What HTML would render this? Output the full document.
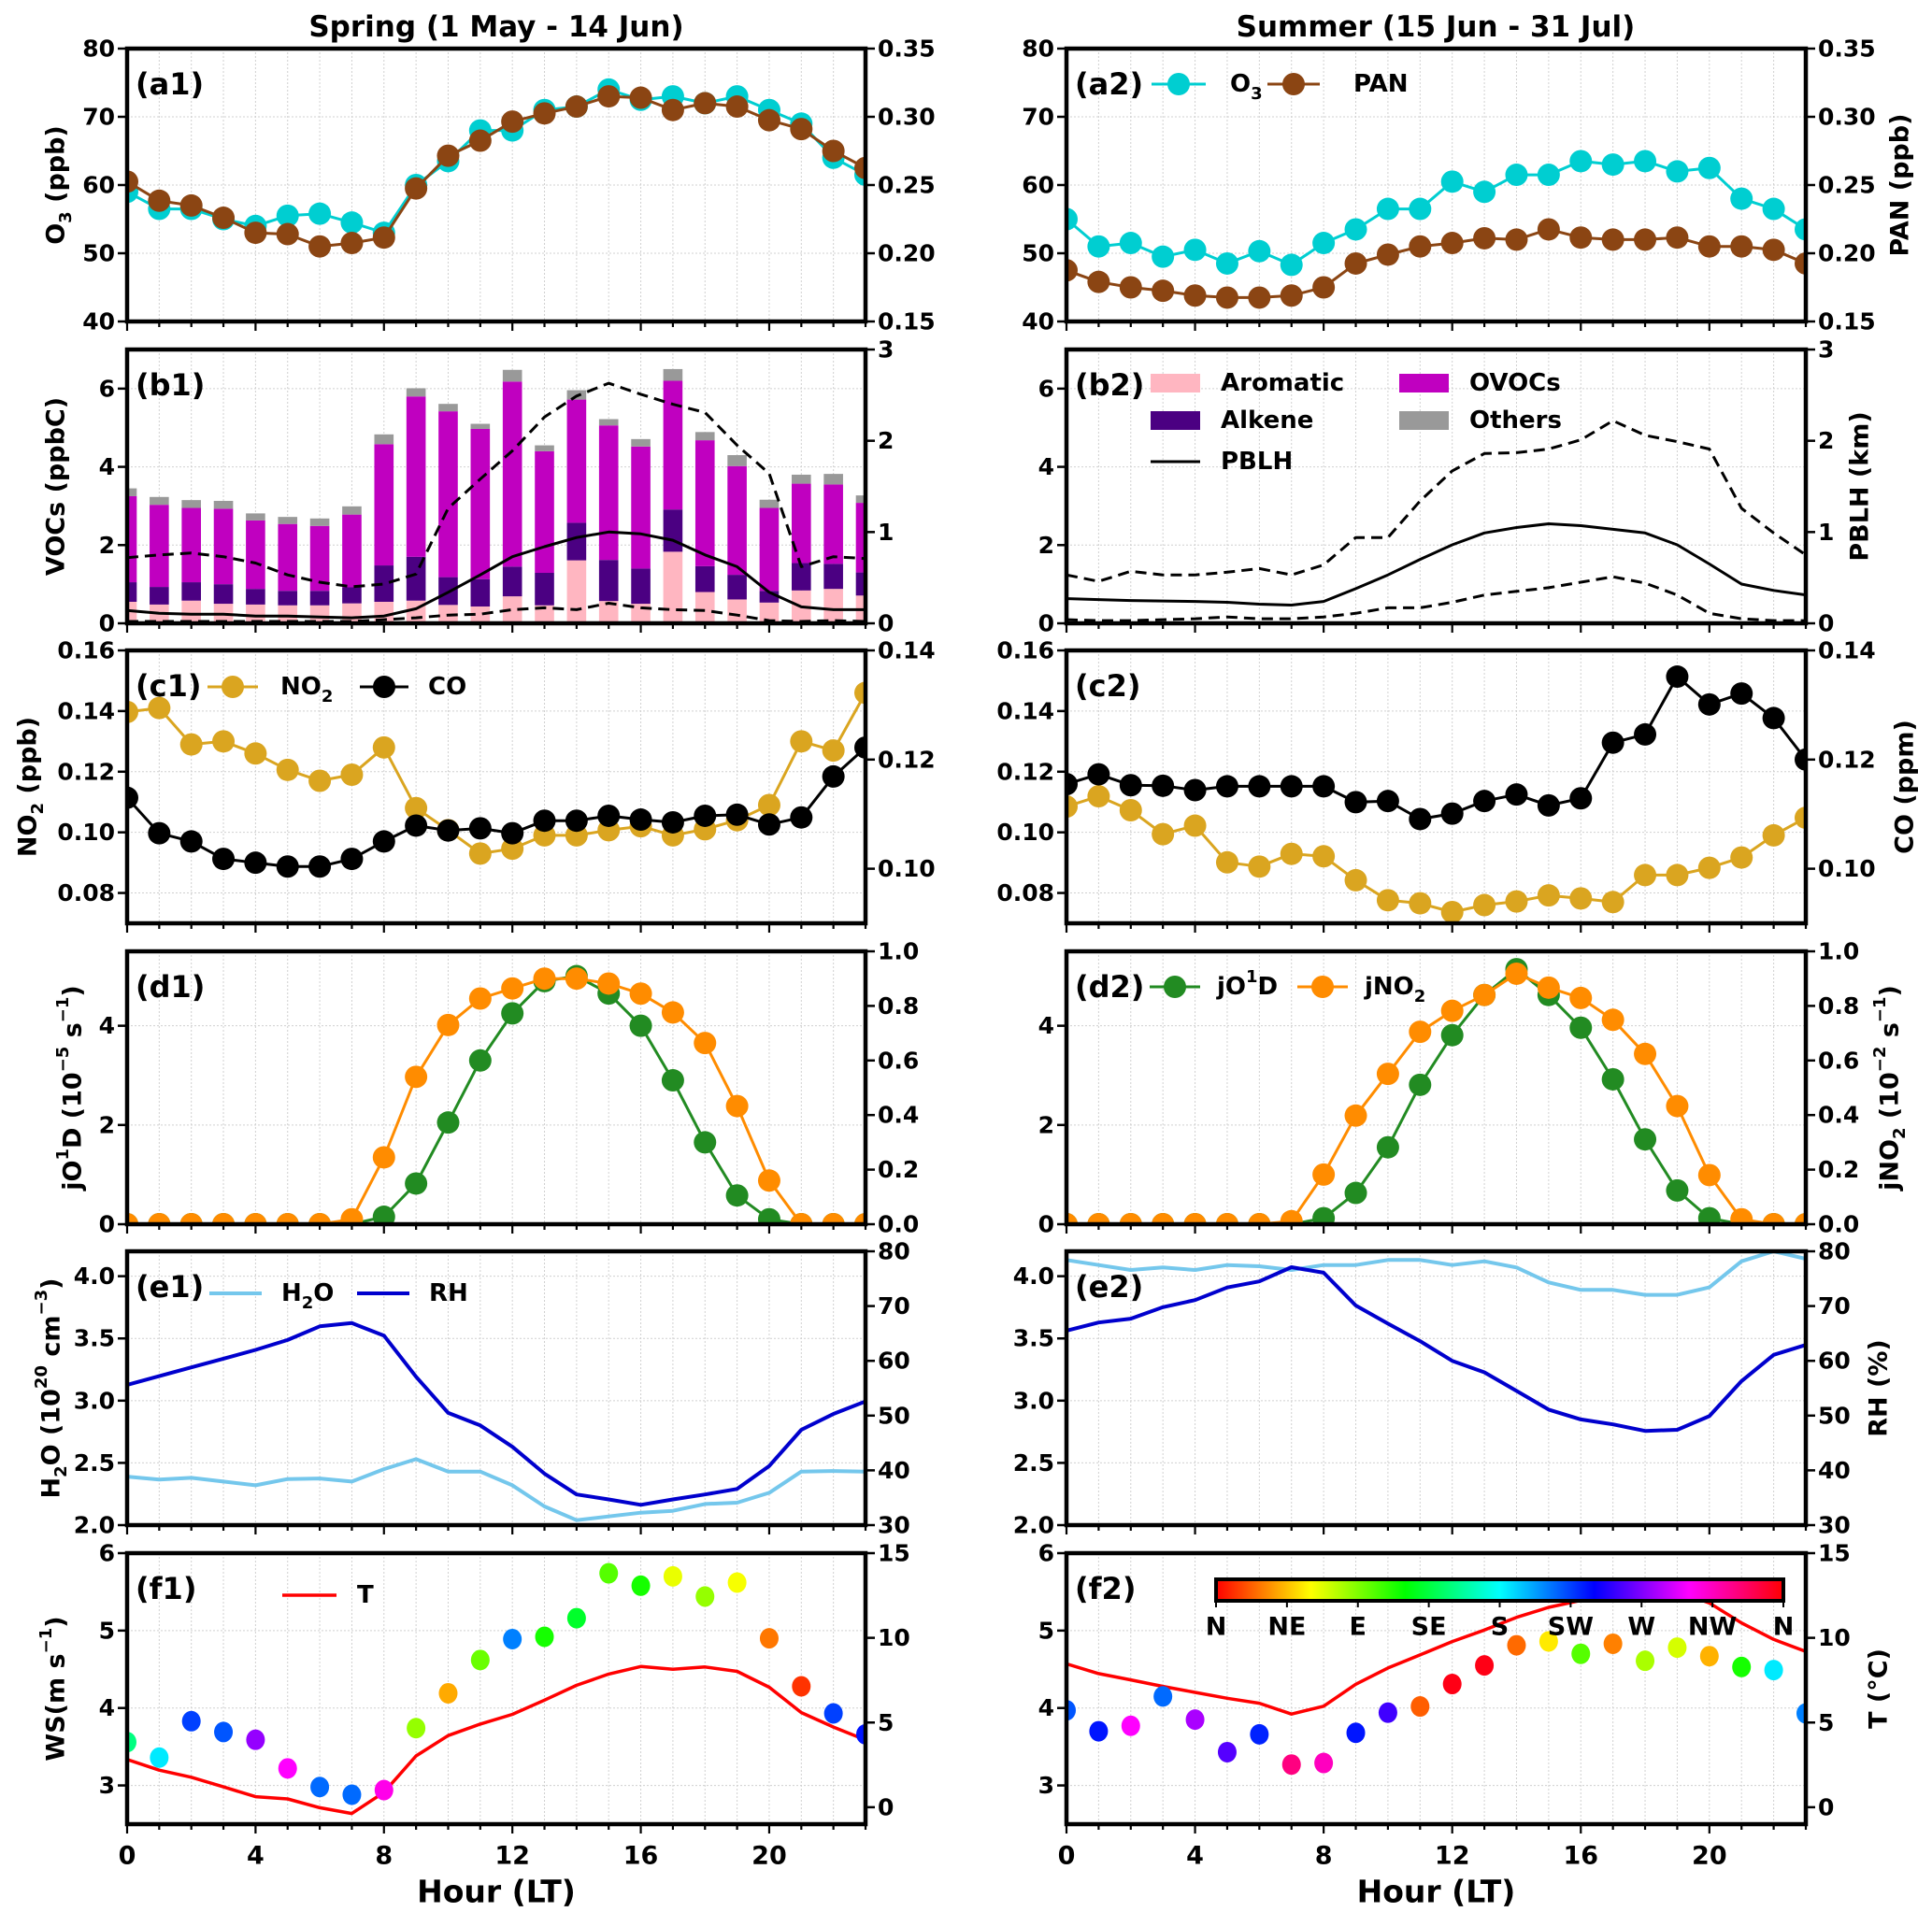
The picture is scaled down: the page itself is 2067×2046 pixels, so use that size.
<!DOCTYPE html>
<html><head><meta charset="utf-8">
<style>
html,body{margin:0;padding:0;background:#fff;}
svg{display:block;}
text{font-family:"DejaVu Sans","Liberation Sans",sans-serif;font-weight:bold;fill:#000;}
</style></head>
<body>
<svg id="chart" xmlns="http://www.w3.org/2000/svg" width="2067" height="2046" viewBox="0 0 2067 2046">
<defs id="defs">
<linearGradient id="hsvgrad" x1="0" x2="1" y1="0" y2="0">
<stop offset="0" stop-color="#ff0000"/><stop offset="0.1667" stop-color="#ffff00"/><stop offset="0.3333" stop-color="#00ff00"/><stop offset="0.5" stop-color="#00ffff"/><stop offset="0.6667" stop-color="#0000ff"/><stop offset="0.8333" stop-color="#ff00ff"/><stop offset="1" stop-color="#ff0000"/>
</linearGradient>
</defs>
</svg>
<script>
// ---------- data ----------
const hours = [0,1,2,3,4,5,6,7,8,9,10,11,12,13,14,15,16,17,18,19,20,21,22,23];
const xTicks = [0,4,8,12,16,20];
// a
const o3Spring = [59,56.5,56.5,55,54,55.5,55.8,54.5,53,60,63.5,68,68,71,71.5,74,72.5,73,72,73,71,69,64,61.5];
const panSpring = [0.2525,0.2385,0.235,0.226,0.215,0.214,0.205,0.2075,0.2115,0.2475,0.2715,0.2825,0.2965,0.3025,0.3075,0.315,0.314,0.305,0.31,0.3075,0.2975,0.291,0.275,0.2625];
const o3Summer = [55,51,51.5,49.5,50.5,48.5,50.3,48.3,51.5,53.5,56.5,56.5,60.5,59,61.5,61.5,63.5,63,63.5,62,62.5,58,56.5,53.5];
const panSummer = [0.1875,0.179,0.175,0.1725,0.169,0.1675,0.1675,0.169,0.175,0.1925,0.199,0.205,0.2075,0.211,0.21,0.2175,0.2115,0.21,0.21,0.2115,0.205,0.205,0.2025,0.1925];
// b (spring VOC components, ppbC)
const aromatic = [0.55,0.48,0.58,0.5,0.48,0.46,0.46,0.51,0.55,0.58,0.47,0.43,0.69,0.46,1.61,0.57,0.5,1.83,0.8,0.61,0.53,0.84,0.88,0.71];
const alkene = [0.5,0.45,0.47,0.5,0.4,0.37,0.37,0.41,0.93,1.12,0.71,0.7,0.76,0.83,0.96,1.05,0.9,1.08,0.66,0.63,0.3,0.7,0.64,0.59];
const ovocs = [2.2,2.1,1.9,1.93,1.75,1.71,1.66,1.86,3.1,4.1,4.24,3.84,4.73,3.11,3.15,3.44,3.12,3.29,3.22,2.78,2.12,2.03,2.03,1.78];
const others = [0.2,0.2,0.2,0.2,0.18,0.18,0.19,0.21,0.25,0.21,0.19,0.13,0.3,0.15,0.24,0.16,0.19,0.3,0.21,0.28,0.21,0.23,0.27,0.19];
const pblhSpring = [0.14,0.11,0.1,0.1,0.08,0.08,0.07,0.06,0.08,0.16,0.34,0.53,0.73,0.84,0.94,1.0,0.98,0.91,0.75,0.62,0.34,0.18,0.15,0.15];
const pblhSpringHi = [0.72,0.75,0.77,0.73,0.66,0.53,0.45,0.4,0.43,0.54,1.26,1.58,1.89,2.26,2.49,2.63,2.51,2.4,2.31,1.95,1.64,0.62,0.73,0.71];
const pblhSpringLo = [0.02,0.02,0.02,0.02,0.02,0.02,0.02,0.02,0.04,0.06,0.09,0.1,0.15,0.17,0.15,0.22,0.17,0.15,0.14,0.09,0.03,0.02,0.03,0.02];
const pblhSummer = [0.27,0.26,0.25,0.245,0.24,0.23,0.21,0.2,0.24,0.38,0.53,0.7,0.86,0.99,1.05,1.09,1.07,1.03,0.99,0.86,0.65,0.43,0.36,0.31];
const pblhSummerHi = [0.53,0.46,0.57,0.53,0.53,0.56,0.6,0.53,0.64,0.94,0.94,1.34,1.67,1.86,1.87,1.91,2.01,2.22,2.06,1.99,1.91,1.26,0.99,0.75];
const pblhSummerLo = [0.04,0.03,0.03,0.04,0.05,0.07,0.05,0.05,0.07,0.11,0.17,0.17,0.23,0.31,0.35,0.39,0.45,0.51,0.44,0.31,0.11,0.05,0.03,0.03];
// c
const no2Spring = [0.1397,0.141,0.129,0.130,0.126,0.1206,0.117,0.119,0.128,0.108,0.1007,0.093,0.0946,0.099,0.099,0.1007,0.102,0.099,0.101,0.104,0.109,0.130,0.127,0.146];
const coSpring = [0.113,0.1065,0.105,0.1018,0.1011,0.1004,0.1004,0.1018,0.105,0.1079,0.107,0.1074,0.1065,0.1088,0.1088,0.1097,0.109,0.1085,0.1097,0.1099,0.1081,0.1094,0.1169,0.1222];
const no2Summer = [0.1085,0.1119,0.1073,0.0994,0.1022,0.0901,0.0887,0.0929,0.0921,0.0842,0.0776,0.0766,0.0737,0.076,0.0772,0.0792,0.0782,0.077,0.0859,0.0859,0.0883,0.0917,0.099,0.1048];
const coSummer = [0.1155,0.1173,0.1153,0.1152,0.1144,0.1151,0.1151,0.1151,0.1151,0.1122,0.1124,0.1091,0.1101,0.1124,0.1136,0.1116,0.1129,0.1231,0.1246,0.1352,0.1301,0.1321,0.1276,0.12];
// d
const jo1dSpring = [0,0,0,0,0,0,0,0,0.15,0.82,2.05,3.3,4.25,4.9,5.0,4.65,4.0,2.9,1.65,0.58,0.1,0,0,0];
const jno2Spring = [0,0,0,0,0,0,0,0.018,0.245,0.54,0.73,0.827,0.864,0.9,0.9,0.882,0.845,0.776,0.664,0.433,0.16,0,0,0];
const jo1dSummer = [0,0,0,0,0,0,0,0,0.12,0.63,1.55,2.81,3.81,4.62,5.14,4.62,3.96,2.92,1.71,0.68,0.12,0,0,0];
const jno2Summer = [0,0,0,0,0,0,0,0.011,0.182,0.398,0.551,0.705,0.782,0.84,0.918,0.867,0.829,0.749,0.624,0.433,0.18,0.018,0,0];
// e
const h2oSpring = [2.39,2.366,2.38,2.35,2.32,2.37,2.375,2.35,2.45,2.53,2.43,2.43,2.32,2.15,2.04,2.07,2.1,2.115,2.17,2.18,2.26,2.43,2.435,2.43];
const rhSpring = [55.6,57.2,58.8,60.4,62.0,63.8,66.3,66.9,64.6,57.1,50.5,48.2,44.3,39.4,35.6,34.7,33.7,34.7,35.6,36.6,40.8,47.4,50.3,52.6];
const h2oSummer = [4.13,4.09,4.05,4.07,4.05,4.09,4.08,4.05,4.09,4.09,4.13,4.13,4.09,4.12,4.07,3.95,3.89,3.89,3.85,3.85,3.91,4.12,4.2,4.14];
const rhSummer = [65.5,67.0,67.7,69.8,71.1,73.4,74.5,77.1,76.1,70.1,66.8,63.6,60.0,57.9,54.5,51.1,49.3,48.4,47.2,47.4,49.9,56.3,61.1,62.9];
// f
const wsSpring = [3.56,3.36,3.83,3.69,3.59,3.22,2.98,2.88,2.94,3.74,4.19,4.62,4.89,4.92,5.16,5.74,5.58,5.7,5.44,5.62,4.9,4.28,3.93,3.66];
const wdSpring = [150,185,225,220,275,300,215,215,305,85,40,95,210,115,130,100,115,65,85,62,28,12,225,235];
const tSpring = [2.82,2.19,1.77,1.2,0.62,0.49,-0.03,-0.37,0.88,3.03,4.23,4.91,5.48,6.32,7.2,7.86,8.31,8.15,8.28,8.02,7.08,5.59,4.73,3.97];
const wsSummer = [3.97,3.70,3.77,4.15,3.85,3.43,3.66,3.27,3.29,3.68,3.94,4.02,4.31,4.55,4.81,4.86,4.70,4.83,4.61,4.78,4.67,4.53,4.49,3.93];
const wdSummer = [220,235,300,215,280,260,232,330,315,235,255,22,355,355,25,55,100,30,80,70,42,115,185,210];
const tSummer = [8.46,7.89,7.52,7.13,6.78,6.43,6.14,5.5,5.96,7.26,8.22,8.99,9.78,10.46,11.21,11.8,12.21,12.59,12.81,12.76,12.06,10.88,9.91,9.19];
const dirLabels = ['N','NE','E','SE','S','SW','W','NW','N'];

// ---------- layout ----------
const NS = 'http://www.w3.org/2000/svg';
const svg = document.getElementById('chart');
const defs = document.getElementById('defs');
const COLS = [[136,926],[1141,1932]];
const ROWS = [[52,344],[374,667],[696,988],[1018,1310],[1339,1632],[1662,1952]];

function mk(tag, attrs, parent) {
  const e = document.createElementNS(NS, tag);
  for (const k in attrs) e.setAttribute(k, attrs[k]);
  (parent || svg).appendChild(e);
  return e;
}
function txt(parent, x, y, html, size, anchor, rot) {
  const t = mk('text', {x: x, y: y, 'font-size': size, 'text-anchor': anchor || 'start', 'dominant-baseline': 'central'}, parent);
  if (rot) t.setAttribute('transform', 'rotate(-90 ' + x + ' ' + y + ')');
  t.innerHTML = html;
  return t;
}

function makePanel(id, col, row, yl, yr, ylTicks, yrTicks, lfmt, rfmt) {
  const x0 = COLS[col][0], x1 = COLS[col][1], y0 = ROWS[row][0], y1 = ROWS[row][1];
  const g = mk('g', {});
  
  
  const sx = h => x0 + h / 23 * (x1 - x0);
  const syL = v => y1 - (v - yl[0]) / (yl[1] - yl[0]) * (y1 - y0);
  const syR = v => y1 - (v - yr[0]) / (yr[1] - yr[0]) * (y1 - y0);
  const grid = mk('g', {stroke: '#d0d0d0', 'stroke-width': 1, 'stroke-dasharray': '2,2'}, g);
  
  
  hours.forEach(h => { mk('line', {x1: sx(h), x2: sx(h), y1: y0, y2: y1}, grid); });
  ylTicks.forEach(v => { mk('line', {x1: x0, x2: x1, y1: syL(v), y2: syL(v)}, grid); });
  const cp = mk('clipPath', {id: 'clip-' + id}, defs);
  mk('rect', {x: x0, y: y0, width: x1 - x0, height: y1 - y0}, cp);
  const plot = mk('g', {'clip-path': 'url(#clip-' + id + ')'}, g);
  
  
  const p = {g, plot, sx, syL, syR, x0, x1, y0, y1};
  p.finish = function (showX) {
    const ax = mk('g', {stroke: '#000'}, g);
    
    
    const sp = mk('rect', {x: x0, y: y0, width: x1 - x0, height: y1 - y0, fill: 'none', 'stroke-width': 4.5}, ax);
    
    
    hours.forEach(h => {
      const major = xTicks.indexOf(h) >= 0;
      mk('line', {x1: sx(h), x2: sx(h), y1: y1, y2: y1 + (major ? 10 : 6), 'stroke-width': 2.2}, ax);
    });
    const lt = mk('g', {}, g);
    
    
    ylTicks.forEach(v => {
      mk('line', {x1: x0 - 10, x2: x0, y1: syL(v), y2: syL(v), 'stroke-width': 2.5}, ax);
      txt(lt, x0 - 13, syL(v), lfmt(v), 25, 'end');
    });
    const rt = mk('g', {}, g);
    
    
    yrTicks.forEach(v => {
      mk('line', {x1: x1, x2: x1 + 10, y1: syR(v), y2: syR(v), 'stroke-width': 2.5}, ax);
      txt(rt, x1 + 13, syR(v), rfmt(v), 25, 'start');
    });
    if (showX) {
      const xt = mk('g', {}, g);
      
      
      xTicks.forEach(h => { txt(xt, sx(h), y1 + 34, String(h), 27, 'middle'); });
      const xl = txt(g, (x0 + x1) / 2, y1 + 72, 'Hour (LT)', 33, 'middle');
      
      
    }
  };
  return p;
}
function pathD(p, vals, yf) {
  return hours.map((h, i) => (i ? 'L' : 'M') + p.sx(h).toFixed(1) + ' ' + yf(vals[i]).toFixed(1)).join(' ');
}
function lineSeries(p, vals, yf, color, w, dash, name) {
  const a = {d: pathD(p, vals, yf), fill: 'none', stroke: color, 'stroke-width': w, 'stroke-linejoin': 'round'};
  if (dash) a['stroke-dasharray'] = dash;
  const e = mk('path', a, p.plot);
  
  
  return e;
}
function markerSeries(p, vals, yf, color, r, name) {
  const g = mk('g', {fill: color}, p.plot);
  
  
  hours.forEach((h, i) => {
    const c = mk('circle', {cx: p.sx(h), cy: yf(vals[i]), r: r}, g);
    
    
  });
}
function tag(p, label) {
  const t = txt(p.g, p.x0 + 9, p.y0 + 38, label, 32, 'start');
  
  
}
function yTitle(x, row, html, name) {
  const t = txt(svg, x, (ROWS[row][0] + ROWS[row][1]) / 2, html, 27, 'middle', true);
  
  
}
const f0 = v => v.toFixed(0), f1 = v => v.toFixed(1), f2 = v => v.toFixed(2);
const SUB = s => '<tspan baseline-shift="sub" font-size="18">' + s + '</tspan>';
const SUP = s => '<tspan baseline-shift="super" font-size="18">' + s + '</tspan>';

// titles
const t1 = txt(svg, 531, 29, 'Spring (1 May - 14 Jun)', 31, 'middle');


const t2 = txt(svg, 1536, 29, 'Summer (15 Jun - 31 Jul)', 31, 'middle');



// ---------- row a ----------
[[0, o3Spring, panSpring, '(a1)'], [1, o3Summer, panSummer, '(a2)']].forEach(([col, o3, pan, lab]) => {
  const p = makePanel('a' + (col + 1), col, 0, [40, 80], [0.15, 0.35], [40,50,60,70,80], [0.15,0.2,0.25,0.3,0.35], f0, f2);
  lineSeries(p, o3, p.syL, '#00ced1', 3, null, 'o3-line');
  markerSeries(p, o3, p.syL, '#00ced1', 12, 'o3-markers');
  lineSeries(p, pan, p.syR, '#8b4513', 3, null, 'pan-line');
  markerSeries(p, pan, p.syR, '#8b4513', 12, 'pan-markers');
  p.finish(false); tag(p, lab);
});
yTitle(60, 0, 'O' + SUB('3') + ' (ppb)', 'o3-y-axis-title');
yTitle(2033, 0, 'PAN (ppb)', 'pan-y-axis-title');
{
  const lg = mk('g', {});
  
  
  const l1 = mk('line', {x1: 1232, x2: 1290, y1: 90, y2: 90, stroke: '#00ced1', 'stroke-width': 3}, lg);
  
  
  mk('circle', {cx: 1261, cy: 90, r: 12, fill: '#00ced1'}, lg);
  txt(lg, 1316, 90, 'O' + SUB('3'), 26);
  const l2 = mk('line', {x1: 1356, x2: 1412, y1: 90, y2: 90, stroke: '#8b4513', 'stroke-width': 3}, lg);
  
  
  mk('circle', {cx: 1384, cy: 90, r: 12, fill: '#8b4513'}, lg);
  txt(lg, 1448, 90, 'PAN', 26);
}

// ---------- row b ----------
{
  const p = makePanel('b1', 0, 1, [0, 7], [0, 3], [0,2,4,6], [0,1,2,3], f0, f0);
  const bw = 0.6 * (p.x1 - p.x0) / 23;
  const comps = [[aromatic, '#ffb6c1', 'aromatic'], [alkene, '#4b0082', 'alkene'], [ovocs, '#c000c0', 'ovocs'], [others, '#999999', 'others']];
  hours.forEach((h, i) => {
    let base = 0;
    comps.forEach(([arr, color, nm]) => {
      const top = base + arr[i];
      const r = mk('rect', {x: p.sx(h) - bw / 2, y: p.syL(top), width: bw, height: p.syL(base) - p.syL(top), fill: color}, p.plot);
      
      
      base = top;
    });
  });
  lineSeries(p, pblhSpring, p.syR, '#000', 3, null, 'pblh-line');
  lineSeries(p, pblhSpringHi, p.syR, '#000', 3, '12,7', 'pblh-upper-line');
  lineSeries(p, pblhSpringLo, p.syR, '#000', 3, '12,7', 'pblh-lower-line');
  p.finish(false); tag(p, '(b1)');
}
{
  const p = makePanel('b2', 1, 1, [0, 7], [0, 3], [0,2,4,6], [0,1,2,3], f0, f0);
  lineSeries(p, pblhSummer, p.syR, '#000', 3, null, 'pblh-line');
  lineSeries(p, pblhSummerHi, p.syR, '#000', 3, '12,7', 'pblh-upper-line');
  lineSeries(p, pblhSummerLo, p.syR, '#000', 3, '12,7', 'pblh-lower-line');
  p.finish(false); tag(p, '(b2)');
  const lg = mk('g', {});
  
  
  [[1231, 410, '#ffb6c1', 'Aromatic'], [1497, 410, '#c000c0', 'OVOCs'], [1231, 450, '#4b0082', 'Alkene'], [1497, 450, '#999999', 'Others']].forEach(([x, y, c, s]) => {
    const r = mk('rect', {x: x, y: y - 10, width: 53, height: 20, fill: c}, lg);
    
    
    txt(lg, x + 75, y, s, 26);
  });
  mk('line', {x1: 1231, x2: 1284, y1: 494, y2: 494, stroke: '#000', 'stroke-width': 3}, lg);
  txt(lg, 1306, 494, 'PBLH', 26);
}
yTitle(60, 1, 'VOCs (ppbC)', 'vocs-y-axis-title');
yTitle(1990, 1, 'PBLH (km)', 'pblh-y-axis-title');

// ---------- row c ----------
[[0, no2Spring, coSpring, '(c1)'], [1, no2Summer, coSummer, '(c2)']].forEach(([col, no2, co, lab]) => {
  const p = makePanel('c' + (col + 1), col, 2, [0.07, 0.16], [0.09, 0.14], [0.08,0.1,0.12,0.14,0.16], [0.1,0.12,0.14], f2, f2);
  lineSeries(p, no2, p.syL, '#daa520', 3, null, 'no2-line');
  markerSeries(p, no2, p.syL, '#daa520', 12, 'no2-markers');
  lineSeries(p, co, p.syR, '#000', 3, null, 'co-line');
  markerSeries(p, co, p.syR, '#000', 12, 'co-markers');
  p.finish(false); tag(p, lab);
});
{
  const lg = mk('g', {});
  
  
  mk('line', {x1: 222, x2: 276, y1: 735, y2: 735, stroke: '#daa520', 'stroke-width': 3}, lg);
  mk('circle', {cx: 249, cy: 735, r: 12, fill: '#daa520'}, lg);
  txt(lg, 300, 735, 'NO' + SUB('2'), 26);
  mk('line', {x1: 385, x2: 437, y1: 735, y2: 735, stroke: '#000', 'stroke-width': 3}, lg);
  mk('circle', {cx: 411, cy: 735, r: 12, fill: '#000'}, lg);
  txt(lg, 458, 735, 'CO', 26);
}
yTitle(30, 2, 'NO' + SUB('2') + ' (ppb)', 'no2-y-axis-title');
yTitle(2038, 2, 'CO (ppm)', 'co-y-axis-title');

// ---------- row d ----------
[[0, jo1dSpring, jno2Spring, '(d1)'], [1, jo1dSummer, jno2Summer, '(d2)']].forEach(([col, j1, j2, lab]) => {
  const p = makePanel('d' + (col + 1), col, 3, [0, 5.5], [0, 1.0], [0,2,4], [0,0.2,0.4,0.6,0.8,1.0], f0, f1);
  lineSeries(p, j1, p.syL, '#228b22', 3, null, 'jo1d-line');
  markerSeries(p, j1, p.syL, '#228b22', 12, 'jo1d-markers');
  lineSeries(p, j2, p.syR, '#ff8c00', 3, null, 'jno2-line');
  markerSeries(p, j2, p.syR, '#ff8c00', 12, 'jno2-markers');
  p.finish(false); tag(p, lab);
});
{
  const lg = mk('g', {});
  
  
  mk('line', {x1: 1230, x2: 1284, y1: 1056, y2: 1056, stroke: '#228b22', 'stroke-width': 3}, lg);
  mk('circle', {cx: 1257, cy: 1056, r: 12, fill: '#228b22'}, lg);
  txt(lg, 1302, 1056, 'jO' + SUP('1') + 'D', 26);
  mk('line', {x1: 1388, x2: 1442, y1: 1056, y2: 1056, stroke: '#ff8c00', 'stroke-width': 3}, lg);
  mk('circle', {cx: 1415, cy: 1056, r: 12, fill: '#ff8c00'}, lg);
  txt(lg, 1460, 1056, 'jNO' + SUB('2'), 26);
}
yTitle(78, 3, 'jO' + SUP('1') + 'D (10' + SUP('−5') + ' s' + SUP('−1') + ')', 'jo1d-y-axis-title');
yTitle(2022, 3, 'jNO' + SUB('2') + ' (10' + SUP('−2') + ' s' + SUP('−1') + ')', 'jno2-y-axis-title');

// ---------- row e ----------
[[0, h2oSpring, rhSpring, '(e1)'], [1, h2oSummer, rhSummer, '(e2)']].forEach(([col, h2o, rh, lab]) => {
  const p = makePanel('e' + (col + 1), col, 4, [2.0, 4.2], [30, 80], [2.0,2.5,3.0,3.5,4.0], [30,40,50,60,70,80], f1, f0);
  lineSeries(p, h2o, p.syL, '#74c7ec', 4, null, 'h2o-line');
  lineSeries(p, rh, p.syR, '#0000cd', 4, null, 'rh-line');
  p.finish(false); tag(p, lab);
});
{
  const lg = mk('g', {});
  
  
  mk('line', {x1: 224, x2: 280, y1: 1384, y2: 1384, stroke: '#74c7ec', 'stroke-width': 4}, lg);
  txt(lg, 301, 1384, 'H' + SUB('2') + 'O', 26);
  mk('line', {x1: 382, x2: 438, y1: 1384, y2: 1384, stroke: '#0000cd', 'stroke-width': 4}, lg);
  txt(lg, 459, 1384, 'RH', 26);
}
yTitle(55, 4, 'H' + SUB('2') + 'O (10' + SUP('20') + ' cm' + SUP('−3') + ')', 'h2o-y-axis-title');
yTitle(2010, 4, 'RH (%)', 'rh-y-axis-title');

// ---------- row f ----------
[[0, wsSpring, wdSpring, tSpring, '(f1)'], [1, wsSummer, wdSummer, tSummer, '(f2)']].forEach(([col, ws, wd, t, lab]) => {
  const p = makePanel('f' + (col + 1), col, 5, [2.5, 6], [-1, 15], [3,4,5,6], [0,5,10,15], f0, f0);
  lineSeries(p, t, p.syR, '#ff0000', 3.5, null, 'temperature-line');
  const g = mk('g', {}, p.plot);
  
  
  hours.forEach((h, i) => {
    const c = mk('ellipse', {cx: p.sx(h), cy: p.syL(ws[i]), rx: 10, ry: 11, fill: 'hsl(' + wd[i] + ',100%,50%)'}, g);
    
    
  });
  p.finish(true); tag(p, lab);
});
{
  const lg = mk('g', {});
  
  
  mk('line', {x1: 302, x2: 360, y1: 1707, y2: 1707, stroke: '#ff0000', 'stroke-width': 3.5}, lg);
  txt(lg, 382, 1707, 'T', 26);
  const cb = mk('g', {});
  
  
  mk('rect', {x: 1301, y: 1690, width: 607, height: 23, fill: 'url(#hsvgrad)', stroke: '#000', 'stroke-width': 4}, cb);
  dirLabels.forEach((s, i) => {
    const x = 1301 + i * 607 / 8;
    mk('line', {x1: x, x2: x, y1: 1713, y2: 1720, stroke: '#000', 'stroke-width': 2}, cb);
    txt(cb, x, 1741, s, 27, 'middle');
  });
}
yTitle(60, 5, 'WS(m s' + SUP('−1') + ')', 'ws-y-axis-title');
yTitle(2010, 5, 'T (°C)', 't-y-axis-title');
</script>
</body></html>
